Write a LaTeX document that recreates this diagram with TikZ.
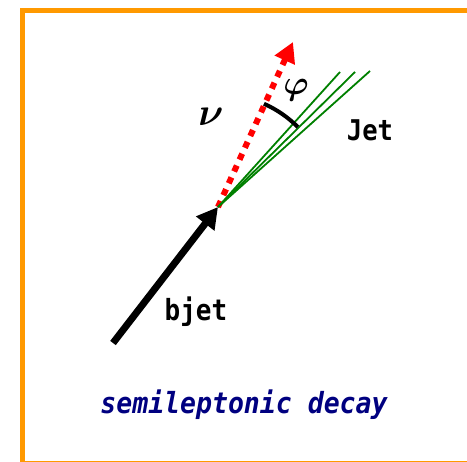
\documentclass[tikz,border=0pt]{standalone}
\usepackage{fontspec}
\setmonofont{DejaVu Sans Mono}
\usepackage{graphicx}
\usepackage{tikz}
\usetikzlibrary{arrows.meta}
\definecolor{frameorange}{HTML}{FF9900}
\definecolor{jetgreen}{HTML}{008000}
\definecolor{decaynavy}{HTML}{000080}
\definecolor{nured}{HTML}{FF0000}

\begin{document}
\begin{tikzpicture}[x=1pt, y=1pt, font=\ttfamily\bfseries\fontsize{26}{26}\selectfont]
  \tikzset{
    jetline/.style={draw=jetgreen, line width=1.8pt},
    nuarrow/.style={draw=nured, line width=6pt, dash pattern=on 6.5pt off 6.5pt, -{Triangle[length=20pt,width=21pt]}},
    barrow/.style={draw=black, line width=7pt, -{Triangle[length=21pt,width=22pt]}},
    lbl/.style={inner sep=0pt, anchor=center},
    greek/.style={lbl, font=\normalfont\fontsize{10}{10}\selectfont\boldmath},
  }
  \useasboundingbox (0,0) rectangle (467,462);
  % frame
  \draw[frameorange, line width=5pt] (472,-1.8) -- (22.5,-1.8) -- (22.5,451.5) -- (472,451.5);

  \coordinate (bstart) at (113,119);
  \coordinate (vtx) at (218,255);
  \coordinate (nutip) at (293,420);
  \coordinate (jetA) at (340,390);
  \coordinate (jetB) at (355,390);
  \coordinate (jetC) at (370,391);

  \draw[nuarrow] (vtx) -- (nutip);
  \foreach \j in {jetA,jetB,jetC}
    \draw[jetline] (vtx) -- (\j);
  \draw[barrow] (bstart) -- (vtx);
  \draw[line width=4pt] ([shift={(66:113)}]vtx) arc[start angle=66, end angle=45, radius=113];

  \node[greek] (philbl) at (296,372) {\scalebox{3.4}{$\varphi$}};
  \node[greek] (nulbl) at (211,345) {\scalebox{3.9}{$\nu$}};
  \node[lbl, font=\ttfamily\bfseries\fontsize{25.5}{25.5}\selectfont] (jetlbl) at (370,332) {\scalebox{1}[1.12]{Jet}};
  \node[lbl] (bjetlbl) at (196,150) {\scalebox{1}[1.12]{bjet}};
  \node[lbl, text=decaynavy, font=\ttfamily\bfseries\itshape\fontsize{26.5}{26.5}\selectfont] (caption) at (244,57.5) {\scalebox{1}[1.1]{semileptonic decay}};
\end{tikzpicture}
\end{document}
